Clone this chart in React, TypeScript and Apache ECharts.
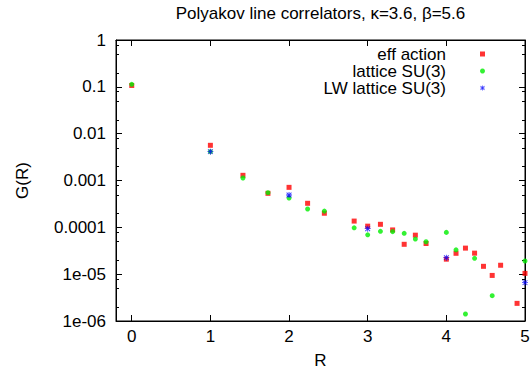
import React, { useEffect, useRef } from 'react';
import * as echarts from 'echarts';

const TITLE = 'Polyakov line correlators, κ=3.6, β=5.6';
const X_NAME = 'R';
const Y_NAME = 'G(R)';
const SERIES_NAMES = ['eff action', 'lattice SU(3)', 'LW lattice SU(3)'];

const R_VALUES = [0, 1, 1.414, 1.732, 2, 2.236, 2.449, 2.828, 3, 3.162, 3.317, 3.464, 3.606, 3.742, 4, 4.123, 4.243, 4.359, 4.472, 4.583, 4.69, 4.899, 5];
const EFF_ACTION = [0.107, 0.00564, 0.00129, 0.000532, 0.000714, 0.000326, 0.0002, 0.000136, 0.000106, 0.000116, 0.000088, 0.0000434, 0.000068, 0.0000452, 0.0000209, 0.0000279, 0.000036, 0.0000281, 0.0000147, 0.0000094, 0.0000155, 0.00000238, 0.0000104];
const LATTICE = [0.113, 0.00413, 0.00113, 0.00055, 0.000423, 0.000246, 0.000222, 0.0000975, 0.0000692, 0.0000821, 0.000081, 0.0000745, 0.0000562, 0.0000492, 0.000078, 0.0000331, 0.00000141, 0.0000218, null, 0.00000347, null, null, 0.0000191];
const LW_R = [1, 2, 3, 4, 5];
const LW_LATTICE = [0.00413, 0.00049, 0.0000935, 0.0000225, 0.0000066];

const X_TICKS = [0, 1, 2, 3, 4, 5];
const Y_TICK_LABELS = ['1e-06', '1e-05', '0.0001', '0.001', '0.01', '0.1', '1'];
const Y_MINOR_TICKS = [2e-6, 5e-6, 8e-6, 2e-5, 5e-5, 8e-5, 2e-4, 5e-4, 8e-4, 2e-3, 5e-3, 8e-3, 0.02, 0.05, 0.08, 0.2, 0.5, 0.8];

const STAR = 'path://M0 4.3H10V5.7H0Z M4.3 0H5.7V10H4.3Z M0.5 1.5L1.5 0.5L9.5 8.5L8.5 9.5Z M8.5 0.5L9.5 1.5L1.5 9.5L0.5 8.5Z';

const FONT = 'Liberation Sans';
const FS = 17;
const GRID_LEFT = 116;
const GRID_RIGHT_X = 525;
const W = 532;
const H = 370;

export default function App() {
  const ref = useRef<HTMLDivElement>(null);
  useEffect(() => {
    document.body.style.margin = '0';
    const chart = echarts.init(ref.current!, null, { renderer: 'svg' });
    const pair = (xs: number[], ys: (number | null)[]) =>
      xs.map((x, i) => [x, ys[i]]).filter((d) => d[1] != null);
    const textStyle = { fontFamily: FONT, fontSize: FS, color: '#000' };
    const axisLine = { show: true, onZero: false, lineStyle: { color: '#000', width: 1 } };
    const xCommon = {
      type: 'value', min: -0.2, max: 5, splitLine: { show: false }, axisLine,
      axisTick: { show: true, inside: true, length: 6, customValues: X_TICKS, lineStyle: { color: '#000' } },
    };
    const yCommon = {
      type: 'log', logBase: 10, min: 1e-6, max: 1, splitLine: { show: false }, axisLine,
      axisTick: { show: true, inside: true, length: 6, lineStyle: { color: '#000' } },
      minorTick: { show: false },
    };
    const option: any = {
      animation: false,
      backgroundColor: '#fff',
      title: {
        text: TITLE, left: 320.5, top: 5, textAlign: 'center', padding: 0,
        textStyle: { ...textStyle, fontWeight: 'normal' },
      },
      legend: {
        orient: 'vertical', align: 'right', right: W - 482.5 - 2.5, top: 45.5, padding: 0,
        itemWidth: 5, itemHeight: 5, itemGap: 0, selectedMode: false,
        data: SERIES_NAMES,
        textStyle: { ...textStyle, lineHeight: 16, padding: [0, 29, 0, 0] },
      },
      grid: {
        left: GRID_LEFT, right: W - GRID_RIGHT_X, top: 40, bottom: 49, containLabel: false, outerBoundsMode: 'none',
        show: true, borderColor: '#000', borderWidth: 1, backgroundColor: 'transparent',
      },
      xAxis: [
        {
          ...xCommon, position: 'bottom', name: X_NAME, nameLocation: 'middle', nameGap: 31,
          nameTextStyle: textStyle,
          axisLabel: { ...textStyle, margin: 7, customValues: X_TICKS, formatter: (v: number) => (Number.isInteger(v) ? String(v) : '') },
        },
        { ...xCommon, position: 'top', axisLabel: { show: false } },
      ],
      yAxis: [
        {
          ...yCommon, position: 'left', name: Y_NAME, nameLocation: 'middle', nameGap: 85,
          nameTextStyle: textStyle,
          axisLabel: { ...textStyle, margin: 10, formatter: (v: number) => Y_TICK_LABELS[Math.round(Math.log10(v)) + 6] ?? '' },
        },
        { ...yCommon, position: 'right', axisLabel: { show: false } },
      ],
      series: [
        {
          name: SERIES_NAMES[0], type: 'scatter', symbol: 'rect', symbolSize: 5, clip: false,
          itemStyle: { color: '#ff0000' }, data: pair(R_VALUES, EFF_ACTION),
        },
        {
          name: SERIES_NAMES[1], type: 'scatter', symbol: 'circle', symbolSize: 5, clip: false,
          itemStyle: { color: '#00ee00' }, data: pair(R_VALUES, LATTICE),
        },
        {
          name: SERIES_NAMES[2], type: 'scatter', symbol: STAR, symbolSize: 6, clip: false,
          itemStyle: { color: '#0000ff' }, data: pair(LW_R, LW_LATTICE),
        },
      ],
    };
    chart.setOption(option);
    const els: any[] = [];
    for (const v of Y_MINOR_TICKS) {
      const yy = chart.convertToPixel({ yAxisIndex: 0 }, v) as number;
      const y = Math.round(yy) + 0.5;
      els.push({ type: 'line', silent: true, shape: { x1: GRID_LEFT, y1: y, x2: GRID_LEFT + 3, y2: y }, style: { stroke: '#000', lineWidth: 1 } });
      els.push({ type: 'line', silent: true, shape: { x1: GRID_RIGHT_X - 3, y1: y, x2: GRID_RIGHT_X, y2: y }, style: { stroke: '#000', lineWidth: 1 } });
    }
    chart.setOption({ graphic: els });
    return () => chart.dispose();
  }, []);
  return <div ref={ref} style={{ position: 'absolute', left: 0, top: 0, width: W, height: H }} />;
}
